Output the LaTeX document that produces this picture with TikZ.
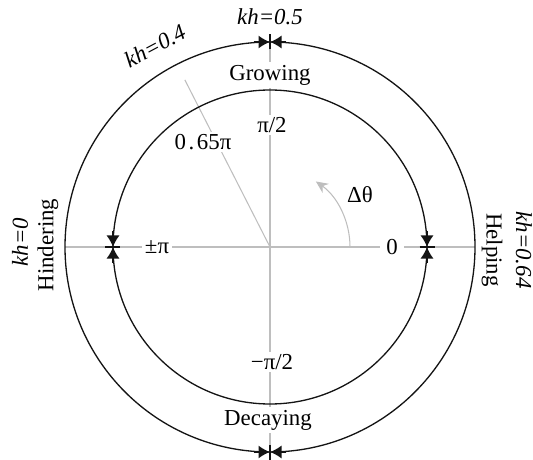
\documentclass[tikz,border=0pt]{standalone}
\usepackage{fontspec}
\setmainfont{Liberation Serif}
\usetikzlibrary{arrows.meta,calc}
\definecolor{axisGray}{RGB}{190,190,190}
\definecolor{ringBlack}{RGB}{20,20,20}
\tikzset{
  lbl/.style={fill=white, inner sep=1.5pt, font=\fontsize{13}{15}\selectfont},
  khlbl/.style={inner sep=1pt, font=\fontsize{13}{15}\selectfont\itshape},
  ring/.style={draw=ringBlack, line width=0.75pt},
  axis/.style={draw=axisGray, line width=0.6pt},
  pin/.style={-{Latex[length=2.3mm, width=2.6mm]}, draw=ringBlack, line width=0.75pt}
}

\begin{document}
\begin{tikzpicture}[
  bar/.style={draw=ringBlack, line width=0.9pt},
  turn/.style={-{Stealth[length=2.4mm, width=2.2mm]}, draw=axisGray, line width=0.6pt}
]
\useasboundingbox (-5.4,-4.24) rectangle (5.26,4.94);

\coordinate (O) at (0,0);
\coordinate (outW) at (-4.1,0);
\coordinate (outE) at (4.1,0);
\coordinate (outN) at (0,4.1);
\coordinate (outS) at (0,-4.1);
\coordinate (inW) at (-3.14,0);
\coordinate (inE) at (3.14,0);
\coordinate (tilt) at (117:3.75);

% Axes
\draw[axis] (outW) -- (outE);
\draw[axis] (outN) -- (outS);
\draw[axis] (O) -- (tilt);
\draw[turn] (1.6,0) arc[start angle=0, end angle=55, radius=1.6];

% Phase labels
\node[lbl] (half) at (0.04,2.44) {π/2};
\node[lbl] (mhalf) at (0.04,-2.3) {−π/2};
\node[lbl] (pm) at (-2.26,0) {±π};
\node[lbl, inner sep=3.5pt] (zero) at (2.44,0) {0};
\node[lbl] (tiltlbl) at (-1.34,2.1) {0\kern1.5pt.\kern1.5pt65π};
\node[lbl, fill=none] (dtheta) at (1.8,1.04) {Δθ};

% Regimes
\node[lbl] (grow) at (0,3.44) {Growing};
\node[lbl] (decay) at (-0.04,-3.46) {Decaying};
\node[lbl, fill=none, rotate=90] (hind) at (-4.44,0.04) {Hindering};
\node[lbl, fill=none, rotate=-90] (help) at (4.44,-0.06) {Helping};

% kh values
\node[khlbl] (kh05) at (0,4.6) {kh=0.5};
\node[khlbl, rotate=28] (kh04) at (-2.3,4.02) {kh=0.4};
\node[khlbl, rotate=90] (kh0) at (-5.0,0.1) {kh=0};
\node[khlbl, rotate=-90] (kh064) at (5.08,-0.06) {kh=0.64};

% Rings
\draw[ring] (O) circle[radius=4.1];
\draw[ring] (O) circle[radius=3.14];

% Stagnation points
\draw[pin] ($(outN)+(-0.32,0)$) -- (outN);
\draw[pin] ($(outN)+(0.32,0)$) -- (outN);
\draw[bar] ($(outN)+(0,-0.15)$) -- ($(outN)+(0,0.15)$);
\draw[pin] ($(outS)+(-0.32,0)$) -- (outS);
\draw[pin] ($(outS)+(0.32,0)$) -- (outS);
\draw[bar] ($(outS)+(0,-0.15)$) -- ($(outS)+(0,0.15)$);
\draw[pin] ($(inW)+(0,0.32)$) -- (inW);
\draw[pin] ($(inW)+(0,-0.32)$) -- (inW);
\draw[bar] ($(inW)+(-0.15,0)$) -- ($(inW)+(0.15,0)$);
\draw[pin] ($(inE)+(0,0.32)$) -- (inE);
\draw[pin] ($(inE)+(0,-0.32)$) -- (inE);
\draw[bar] ($(inE)+(-0.15,0)$) -- ($(inE)+(0.15,0)$);
\end{tikzpicture}
\end{document}
